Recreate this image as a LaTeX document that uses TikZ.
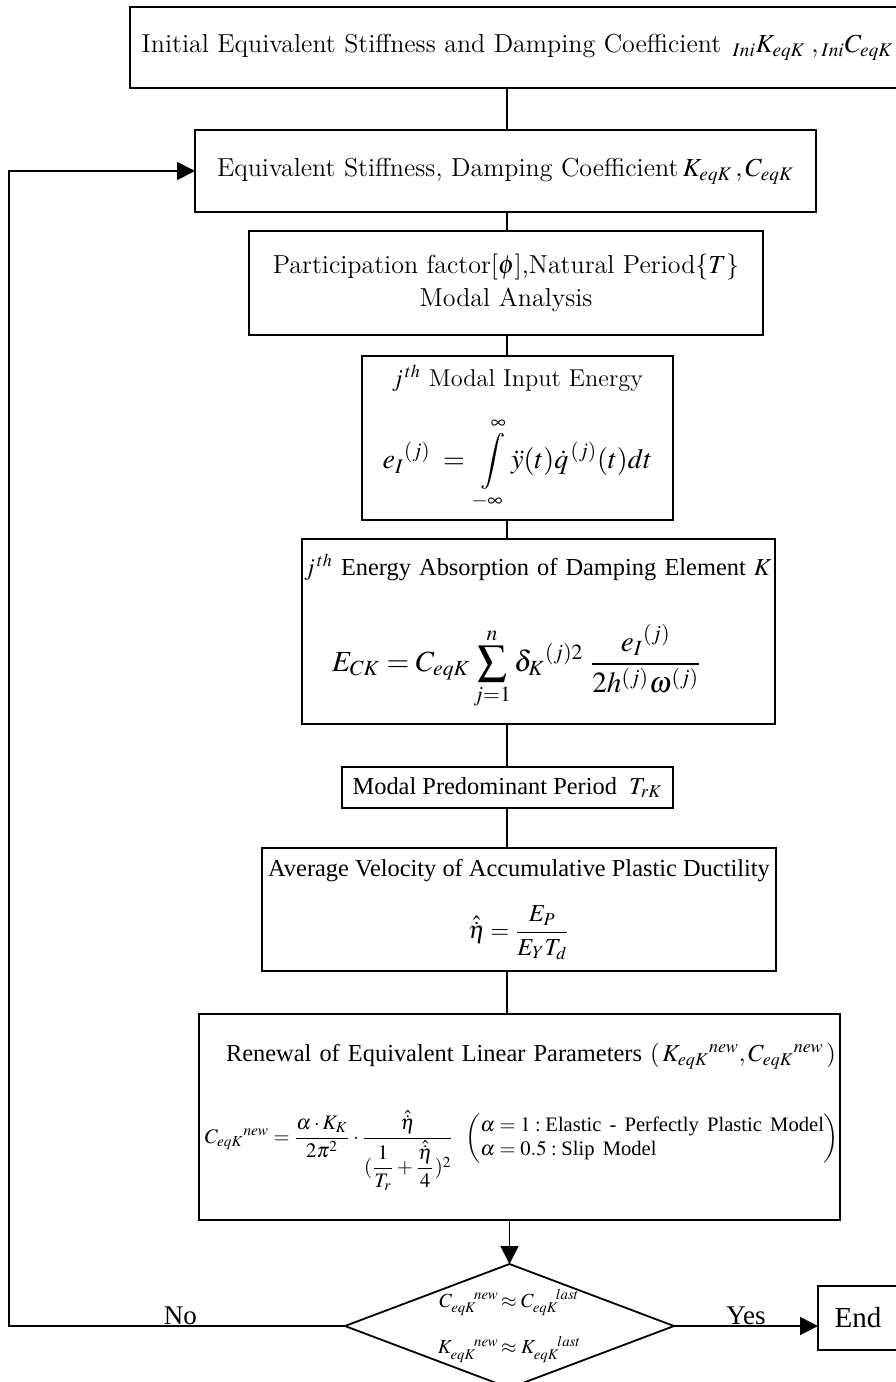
\documentclass[tikz,border=0pt]{standalone}
\usepackage{amsmath,amssymb}
\usepackage{mathptmx}
\usepackage[no-math]{fontspec}
\newfontfamily\timesfont{Liberation Serif}
\usepackage{tikz}
\usetikzlibrary{arrows.meta, positioning, shapes.geometric}

\begin{document}
\begin{tikzpicture}[
    x=0.5pt, y=-0.5pt,
    line width=0.9pt,
    flowbox/.style = {
        draw, line width=0.95pt,
        inner sep=0pt, outer sep=0pt,
        align=center
    },
    cmbox/.style  = {flowbox, font=\fontsize{13}{16.5}\selectfont},
    tmbox/.style  = {flowbox, font=\timesfont\fontsize{12.2}{15}\selectfont},
    decide/.style = {draw, diamond, aspect=2.65, outer sep=0pt,
                     inner xsep=-8pt, inner ysep=-6pt,
                     minimum width=164.5pt, minimum height=62pt, align=center,
                     font=\timesfont\fontsize{10}{12}\selectfont},
    arr/.style    = {-{Triangle[length=9pt,width=9pt]}},
    lbl/.style    = {font=\timesfont\fontsize{13.5}{16}\selectfont,
                     inner sep=0pt, anchor=base, yshift=1pt}
  ]
  \useasboundingbox (0,0) rectangle (895,1382);

  %% Initial values
  \node[cmbox, minimum width=387.5pt, minimum height=40.5pt] (ini) at (517.5,47.5)
       {Initial Equivalent Stiffness and Damping Coefficient
        $\,{}_{Ini}K_{eqK}\;,{}_{Ini}C_{eqK}$};

  %% Equivalent stiffness
  \node[cmbox, minimum width=310.5pt, minimum height=41pt,
        below=21pt of ini, xshift=-6pt] (eq)
       {Equivalent Stiffness, Damping Coefficient\,$K_{eqK}\,,C_{eqK}$};

  %% Modal analysis
  \node[cmbox, minimum width=257pt, minimum height=52pt,
        below=9.5pt of eq, xshift=0.25pt] (mod)
       {Participation factor$[\phi]$,Natural Period$\{T\}$\\Modal Analysis};

  %% Modal input energy
  \node[cmbox, font=\fontsize{12.2}{16}\selectfont,
        minimum width=155.5pt, minimum height=82pt,
        below=10.5pt of mod, xshift=5.75pt] (inp)
       {$j^{\,th}$ Modal Input Energy\\[12pt]
        {\fontsize{14}{16}\selectfont
         $\displaystyle e_I{}^{(j)}\;=\;\int\limits_{-\infty}^{\infty}\ddot{y}(t)\dot{q}^{\,(j)}(t)dt$}};

  %% Energy absorption
  \node[tmbox, minimum width=236.5pt, minimum height=92.5pt,
        text width=236.5pt, align=left,
        below=9.5pt of inp, xshift=10.5pt] (abs)
       {\hspace*{1pt}$j^{\,th}$ Energy Absorption of Damping Element $K$\\[21pt]
        \hspace*{15pt}{\fontsize{14.6}{17}\selectfont
         $\displaystyle E_{CK}=C_{eqK}\sum_{j=1}^{n}\delta_K{}^{(j)2}\;
          \frac{e_I{}^{(j)}}{2h^{(j)}\omega^{(j)}}$}};

  %% Predominant period
  \node[tmbox, minimum width=165.5pt, minimum height=20.5pt,
        below=21.5pt of abs, xshift=-15.5pt] (per)
       {Modal Predominant Period\ \ $T_{rK}$};

  %% Ductility velocity
  \node[tmbox, minimum width=257pt, minimum height=61.5pt,
        below=20pt of per, xshift=5.75pt] (vel)
       {Average Velocity of Accumulative Plastic Ductility\\[11pt]
        $\displaystyle\hat{\dot{\eta}}=\frac{E_P}{E_Y T_d}$};

  %% Renewal
  \node[tmbox, minimum width=320.5pt, minimum height=103pt,
        text width=320.5pt, align=left,
        below=21.5pt of vel, xshift=0.25pt] (ren)
       {\hspace*{13.5pt}Renewal of Equivalent Linear Parameters
        $(\,K_{eqK}{}^{new},C_{eqK}{}^{new}\,)$\\[20pt]
        \hspace*{3pt}{\fontsize{10.3}{12}\selectfont
         $C_{eqK}{}^{new}=\dfrac{\alpha\cdot K_K}{2\pi^2}\cdot
          \dfrac{\hat{\dot{\eta}}}{(\dfrac{1}{T_r}+\dfrac{\hat{\dot{\eta}}}{4})^2}\;\;
          \left(\begin{array}{@{}l@{}}
            \alpha=1:\text{Elastic - Perfectly Plastic Model}\\
            \alpha=0.5:\text{Slip Model}
          \end{array}\right)$}};

  %% Convergence check
  \node[decide, below=22pt of ren, xshift=-5pt] (dia)
       {$C_{eqK}^{\kern1.1em new}\!\approx C_{eqK}^{\kern1.1em last}$\\[9pt]
        $K_{eqK}^{\kern1.1em new}\!\approx K_{eqK}^{\kern1.1em last}$};

  \node[tmbox, minimum width=40pt, minimum height=32pt,
        font=\timesfont\fontsize{14.5}{16}\selectfont,
        right=72pt of dia, yshift=4pt] (end) {End};

  %% Connectors
  \coordinate (ax) at (507,0);
  \coordinate (lp) at (9,0);
  \draw (ini.south -| ax) -- (eq.north -| ax);
  \draw (eq.south -| ax)  -- (mod.north -| ax);
  \draw (mod.south -| ax) -- (inp.north -| ax);
  \draw (inp.south -| ax) -- (abs.north -| ax);
  \draw (abs.south -| ax) -- (per.north -| ax);
  \draw (per.south -| ax) -- (vel.north -| ax);
  \draw (vel.south -| ax) -- (ren.north -| ax);
  \draw[arr] (ren.south -| dia.north) -- (dia.north);
  \draw[arr] (dia.east) -- node[lbl, pos=0.5] {Yes} (dia.east -| end.west);
  \draw[arr] (dia.west) -- node[lbl, pos=0.49] {No} (dia.west -| lp) |- (eq.west);

\end{tikzpicture}
\end{document}
